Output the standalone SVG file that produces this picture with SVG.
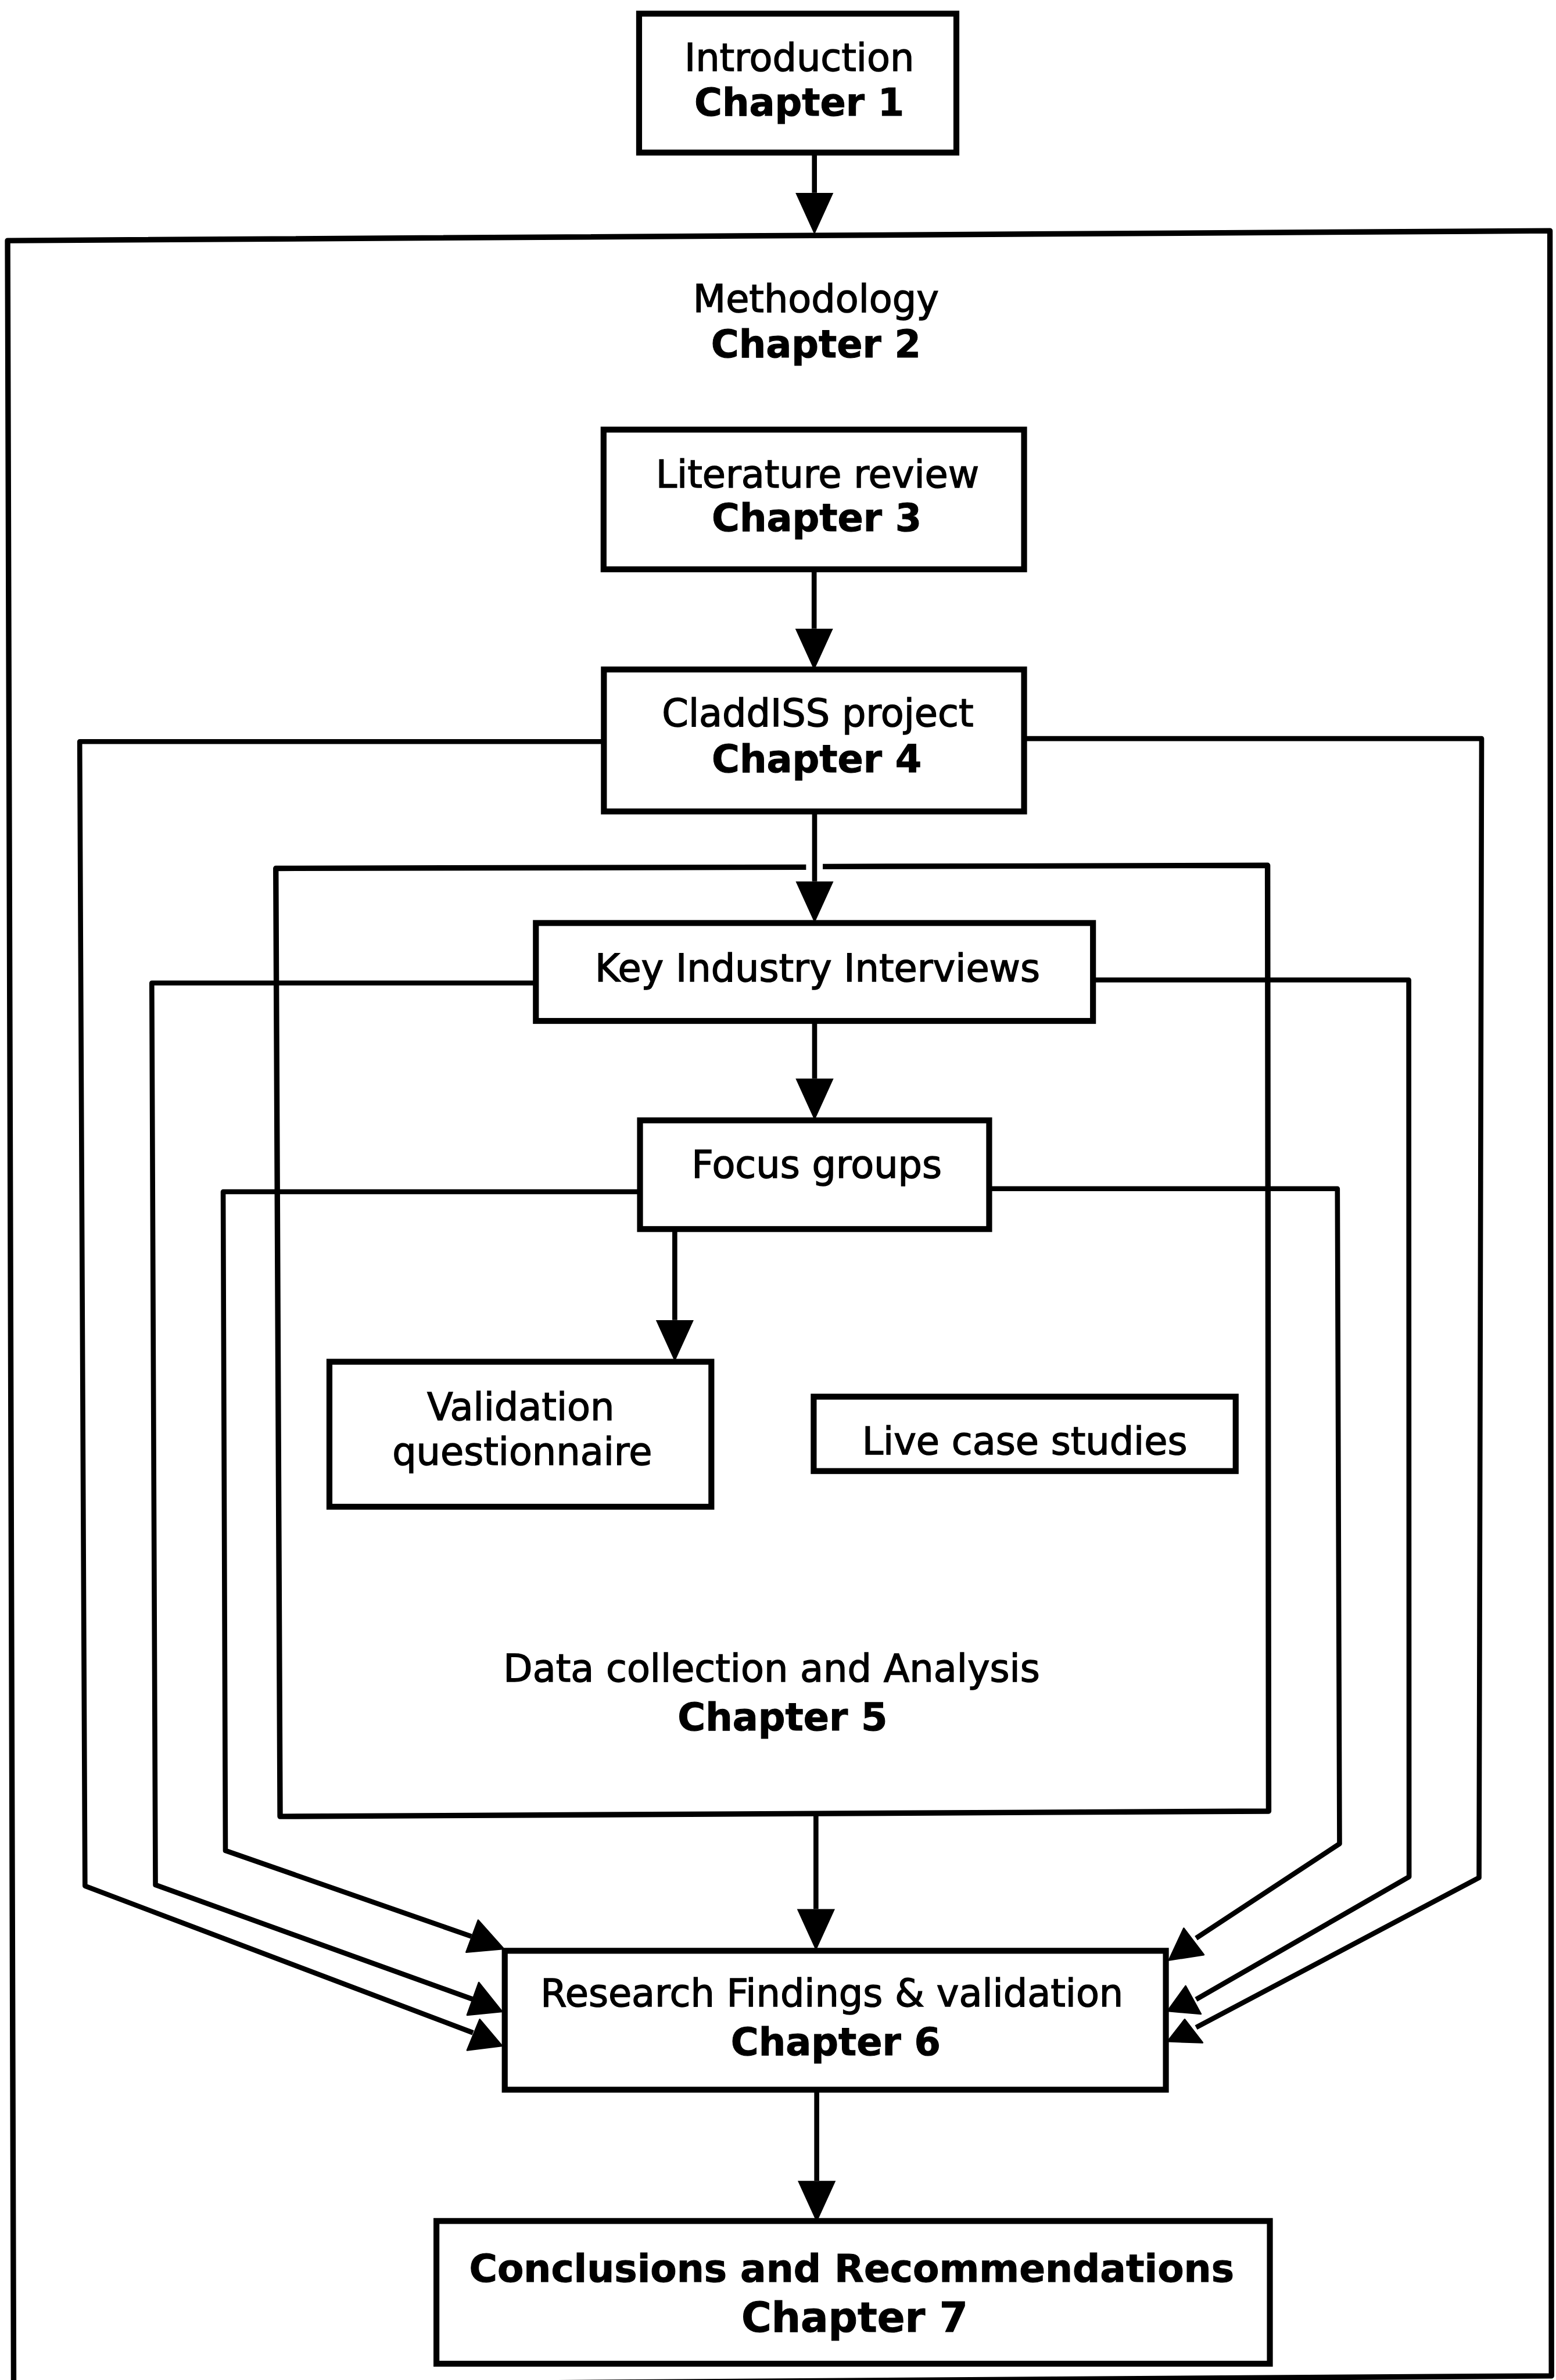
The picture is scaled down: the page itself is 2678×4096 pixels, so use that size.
<svg xmlns="http://www.w3.org/2000/svg" width="2678" height="4096" viewBox="0 0 2678 4096">
  <style>
    .box { fill: #fff; stroke: #000; stroke-width: 3.9; }
    .frame { fill: none; stroke: #000; stroke-width: 3.6; stroke-linejoin: round; }
    .link { fill: none; stroke: #000; stroke-width: 3.3; stroke-linejoin: round; }
    .head { fill: #000; stroke: #000; stroke-width: 1; stroke-linejoin: round; }
    .t { font-family: "DejaVu Sans", "Liberation Sans", sans-serif; font-size: 25px; text-anchor: middle; fill: #000; stroke: #000; stroke-width: 0.55; }
    .b { font-weight: bold; stroke-width: 0.4; }
  </style>
  <defs>
    <marker id="arrow" markerUnits="userSpaceOnUse" viewBox="0 -14 29 28" refX="0" refY="0" markerWidth="29" markerHeight="28" orient="auto">
      <path d="M0,-12.5 L27.5,0 L0,12.5 Z" fill="#000"/>
    </marker>
  </defs>
  <rect x="0" y="0" width="2678" height="4096" fill="#fff"/>
  <g transform="scale(2.6127)">
    <!-- Methodology: outer frame -->
    <g id="methodology">
      <path class="frame" d="M5,158.5 L1021,152 L1022,1565 L9,1572 Z"/>
      <text class="t" x="537.5" y="205.4">Methodology</text>
      <text class="t b" x="537.5" y="235.3">Chapter 2</text>
    </g>

    <!-- Data collection and analysis: inner frame (top edge broken where the arrow enters) -->
    <g id="data-collection">
      <path class="frame" d="M531,571.2 L181.7,572 L184.5,1196.5 L835.7,1193 L835,570 L542,570.8"/>
      <text class="t" x="508.3" y="1107.5">Data collection and Analysis</text>
      <text class="t b" x="515.5" y="1140">Chapter 5</text>
    </g>

    <!-- connectors -->
    <g id="connectors">
      <!-- straight flow arrows -->
      <line class="link" x1="536.5" y1="100.5" x2="536.5" y2="127" marker-end="url(#arrow)"/>
      <line class="link" x1="536.3" y1="375" x2="536.3" y2="414" marker-end="url(#arrow)"/>
      <line class="link" x1="536.6" y1="534" x2="536.6" y2="580.5" marker-end="url(#arrow)"/>
      <line class="link" x1="536.6" y1="672.5" x2="536.6" y2="710.5" marker-end="url(#arrow)"/>
      <line class="link" x1="444.5" y1="809.6" x2="444.5" y2="869.5" marker-end="url(#arrow)"/>
      <line class="link" x1="537.5" y1="1196" x2="537.5" y2="1257.5" marker-end="url(#arrow)"/>
      <line class="link" x1="538" y1="1376.7" x2="538" y2="1436.5" marker-end="url(#arrow)"/>

      <!-- left-hand feeds into Research Findings -->
      <polyline class="link" points="398,488.5 52.5,488.5 56,1242.3 311.6,1339"/>
      <polyline class="link" points="353,647.5 100,647.5 102.4,1241.6 311.6,1317"/>
      <polyline class="link" points="422,785 147,785 148.5,1219 310.5,1275.5"/>
      <polygon class="head" points="315,1264.8 307.1,1285.9 331.8,1283.7"/>
      <polygon class="head" points="315.4,1305.9 307.7,1327.3 330.7,1325"/>
      <polygon class="head" points="316,1330.2 307.7,1350.5 330.7,1347.6"/>

      <!-- right-hand feeds into Research Findings -->
      <polyline class="link" points="674,486.5 976,486.5 974.3,1236.8 787.9,1335.5"/>
      <polyline class="link" points="720,645.5 928,645.5 928.2,1236.3 787.9,1317"/>
      <polyline class="link" points="651.5,783 881,783 882.4,1214.5 787.9,1276.7"/>
      <polygon class="head" points="779.8,1270.2 770,1291.2 793,1287.6"/>
      <polygon class="head" points="781,1308.2 769.1,1324.7 791.1,1326.6"/>
      <polygon class="head" points="780.4,1330.2 769.1,1344.7 792.2,1345.5"/>
    </g>

    <!-- nodes -->
    <g id="introduction">
      <rect class="box" x="421" y="9" width="209" height="91.5"/>
      <text class="t" x="526.5" y="46.6">Introduction</text>
      <text class="t b" x="526.5" y="76.3">Chapter 1</text>
    </g>
    <g id="literature-review">
      <rect class="box" x="397.6" y="283" width="277" height="92"/>
      <text class="t" x="538.5" y="321">Literature review</text>
      <text class="t b" x="538" y="350">Chapter 3</text>
    </g>
    <g id="claddiss-project">
      <rect class="box" x="397.8" y="441" width="276.8" height="93.5"/>
      <text class="t" x="538.7" y="478.4">CladdISS project</text>
      <text class="t b" x="538" y="508.5">Chapter 4</text>
    </g>
    <g id="key-interviews">
      <rect class="box" x="353" y="608" width="367" height="64.5"/>
      <text class="t" x="538.5" y="646.5">Key Industry Interviews</text>
    </g>
    <g id="focus-groups">
      <rect class="box" x="421.6" y="738" width="230" height="71.6"/>
      <text class="t" x="538" y="776">Focus groups</text>
    </g>
    <g id="validation-questionnaire">
      <rect class="box" x="217" y="897" width="251.6" height="95.5"/>
      <text class="t" x="343" y="935.6">Validation</text>
      <text class="t" x="344" y="965">questionnaire</text>
    </g>
    <g id="live-case-studies">
      <rect class="box" x="536" y="920" width="278" height="49"/>
      <text class="t" x="675" y="958">Live case studies</text>
    </g>
    <g id="research-findings">
      <rect class="box" x="332.5" y="1285" width="435.5" height="91.5"/>
      <text class="t" x="548" y="1321.8">Research Findings &amp; validation</text>
      <text class="t b" x="550.5" y="1353.7">Chapter 6</text>
    </g>
    <g id="conclusions">
      <rect class="box" x="287.5" y="1463" width="549" height="94"/>
      <text class="t b" x="561" y="1503" style="font-size:25.3px">Conclusions and Recommendations</text>
      <text class="t b" x="563" y="1536" style="font-size:27px">Chapter 7</text>
    </g>
  </g>
</svg>
